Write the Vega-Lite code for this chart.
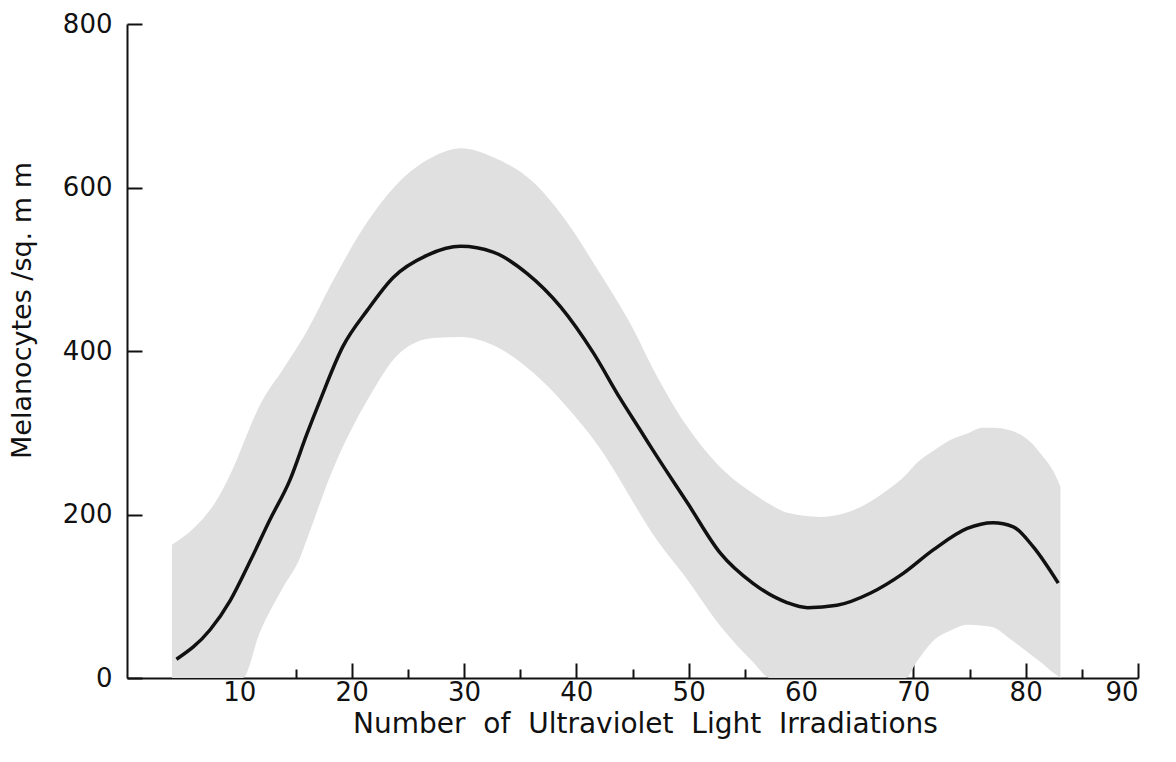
{
  "$schema": "https://vega.github.io/schema/vega-lite/v6.json",
  "width": 1011,
  "height": 654,
  "autosize": {"type": "none"},
  "padding": {"left": 127, "top": 24, "right": 38, "bottom": 84},
  "background": "white",
  "config": {
    "view": {"stroke": null},
    "font": "DejaVu Sans",
    "axis": {
      "domainColor": "#111",
      "domainWidth": 2,
      "tickColor": "#111",
      "tickWidth": 2,
      "grid": false,
      "labelColor": "#111",
      "titleColor": "#111",
      "labelFont": "DejaVu Sans",
      "titleFont": "DejaVu Sans",
      "labelFontSize": 26,
      "titleFontSize": 28,
      "titleFontWeight": "normal"
    }
  },
  "datasets": {
    "band": [
      {"x": 4.0, "lo": 0, "hi": 163},
      {"x": 6.0, "lo": 0, "hi": 184},
      {"x": 8.0, "lo": 0, "hi": 218},
      {"x": 9.8, "lo": 0, "hi": 268},
      {"x": 10.3, "lo": 0, "hi": 285},
      {"x": 11.8, "lo": 55, "hi": 333},
      {"x": 13.9, "lo": 111, "hi": 378},
      {"x": 15.4, "lo": 147, "hi": 410},
      {"x": 16.0, "lo": 169, "hi": 424},
      {"x": 18.3, "lo": 254, "hi": 485},
      {"x": 21.4, "lo": 340, "hi": 558},
      {"x": 24.3, "lo": 398, "hi": 608},
      {"x": 27.3, "lo": 416, "hi": 638},
      {"x": 29.7, "lo": 417, "hi": 648},
      {"x": 32.6, "lo": 407, "hi": 637},
      {"x": 36.2, "lo": 373, "hi": 606},
      {"x": 39.2, "lo": 331, "hi": 557},
      {"x": 42.1, "lo": 281, "hi": 495},
      {"x": 43.9, "lo": 242, "hi": 455},
      {"x": 45.1, "lo": 214, "hi": 426},
      {"x": 46.8, "lo": 176, "hi": 379},
      {"x": 49.9, "lo": 120, "hi": 307},
      {"x": 52.8, "lo": 64, "hi": 258},
      {"x": 55.7, "lo": 20, "hi": 226},
      {"x": 57.3, "lo": 0, "hi": 212},
      {"x": 58.8, "lo": 0, "hi": 202},
      {"x": 61.7, "lo": 0, "hi": 197},
      {"x": 64.6, "lo": 0, "hi": 205},
      {"x": 67.7, "lo": 0, "hi": 230},
      {"x": 69.3, "lo": 0, "hi": 248},
      {"x": 70.3, "lo": 20, "hi": 263},
      {"x": 71.8, "lo": 46, "hi": 278},
      {"x": 73.3, "lo": 58, "hi": 291},
      {"x": 74.8, "lo": 65, "hi": 299},
      {"x": 76.2, "lo": 64, "hi": 306},
      {"x": 77.1, "lo": 62, "hi": 306},
      {"x": 78.6, "lo": 48, "hi": 303},
      {"x": 80.7, "lo": 26, "hi": 285},
      {"x": 81.3, "lo": 20, "hi": 275},
      {"x": 82.5, "lo": 6, "hi": 252},
      {"x": 83.1, "lo": 0, "hi": 234}
    ],
    "curve": [
      {"x": 4.4, "y": 23},
      {"x": 7.4, "y": 59},
      {"x": 9.2, "y": 95},
      {"x": 11.0, "y": 144},
      {"x": 12.7, "y": 193},
      {"x": 14.5, "y": 242},
      {"x": 16.0, "y": 298},
      {"x": 17.2, "y": 340},
      {"x": 19.2, "y": 405},
      {"x": 21.4, "y": 450},
      {"x": 23.7, "y": 490},
      {"x": 26.7, "y": 517},
      {"x": 29.7, "y": 528},
      {"x": 32.6, "y": 521},
      {"x": 35.6, "y": 495},
      {"x": 38.6, "y": 454},
      {"x": 41.5, "y": 398},
      {"x": 43.9, "y": 342},
      {"x": 45.7, "y": 303},
      {"x": 46.8, "y": 279},
      {"x": 49.9, "y": 214},
      {"x": 52.8, "y": 153},
      {"x": 55.7, "y": 116},
      {"x": 58.8, "y": 92},
      {"x": 60.6, "y": 86},
      {"x": 63.2, "y": 89},
      {"x": 66.2, "y": 104},
      {"x": 69.1, "y": 128},
      {"x": 71.8, "y": 157},
      {"x": 74.8, "y": 183},
      {"x": 77.1, "y": 190},
      {"x": 78.9, "y": 185},
      {"x": 80.7, "y": 160},
      {"x": 82.9, "y": 116}
    ]
  },
  "layer": [
    {
      "data": {"name": "band"},
      "mark": {"type": "area", "interpolate": "monotone", "color": "#e0e0e0", "opacity": 1},
      "encoding": {
        "x": {
          "field": "x", "type": "quantitative",
          "scale": {"domain": [0, 90], "nice": false, "zero": false},
          "axis": {
            "values": [5, 10, 15, 20, 25, 30, 35, 40, 45, 50, 55, 60, 65, 70, 75, 80, 85, 90],
            "labelExpr": "datum.value % 10 === 0 ? datum.label : ''",
            "tickSize": {"condition": {"test": "datum.value % 10 === 0", "value": -15}, "value": -9},
            "labelPadding": 16,
            "title": "Number \u00a0of \u00a0Ultraviolet \u00a0Light \u00a0Irradiations",
            "titlePadding": 5,
            "titleX": 518
          }
        },
        "y": {
          "field": "hi", "type": "quantitative",
          "scale": {"domain": [0, 800], "nice": false},
          "axis": {
            "values": [0, 200, 400, 600, 800],
            "tickSize": -15,
            "labelPadding": 30,
            "title": "Melanocytes /sq. m m",
            "titleFontSize": 27,
            "titlePadding": 26,
            "titleY": 286
          }
        },
        "y2": {"field": "lo"}
      }
    },
    {
      "data": {"name": "curve"},
      "mark": {"type": "line", "interpolate": "monotone", "color": "#111", "strokeWidth": 3.5},
      "encoding": {
        "x": {"field": "x", "type": "quantitative"},
        "y": {"field": "y", "type": "quantitative"}
      }
    }
  ]
}
